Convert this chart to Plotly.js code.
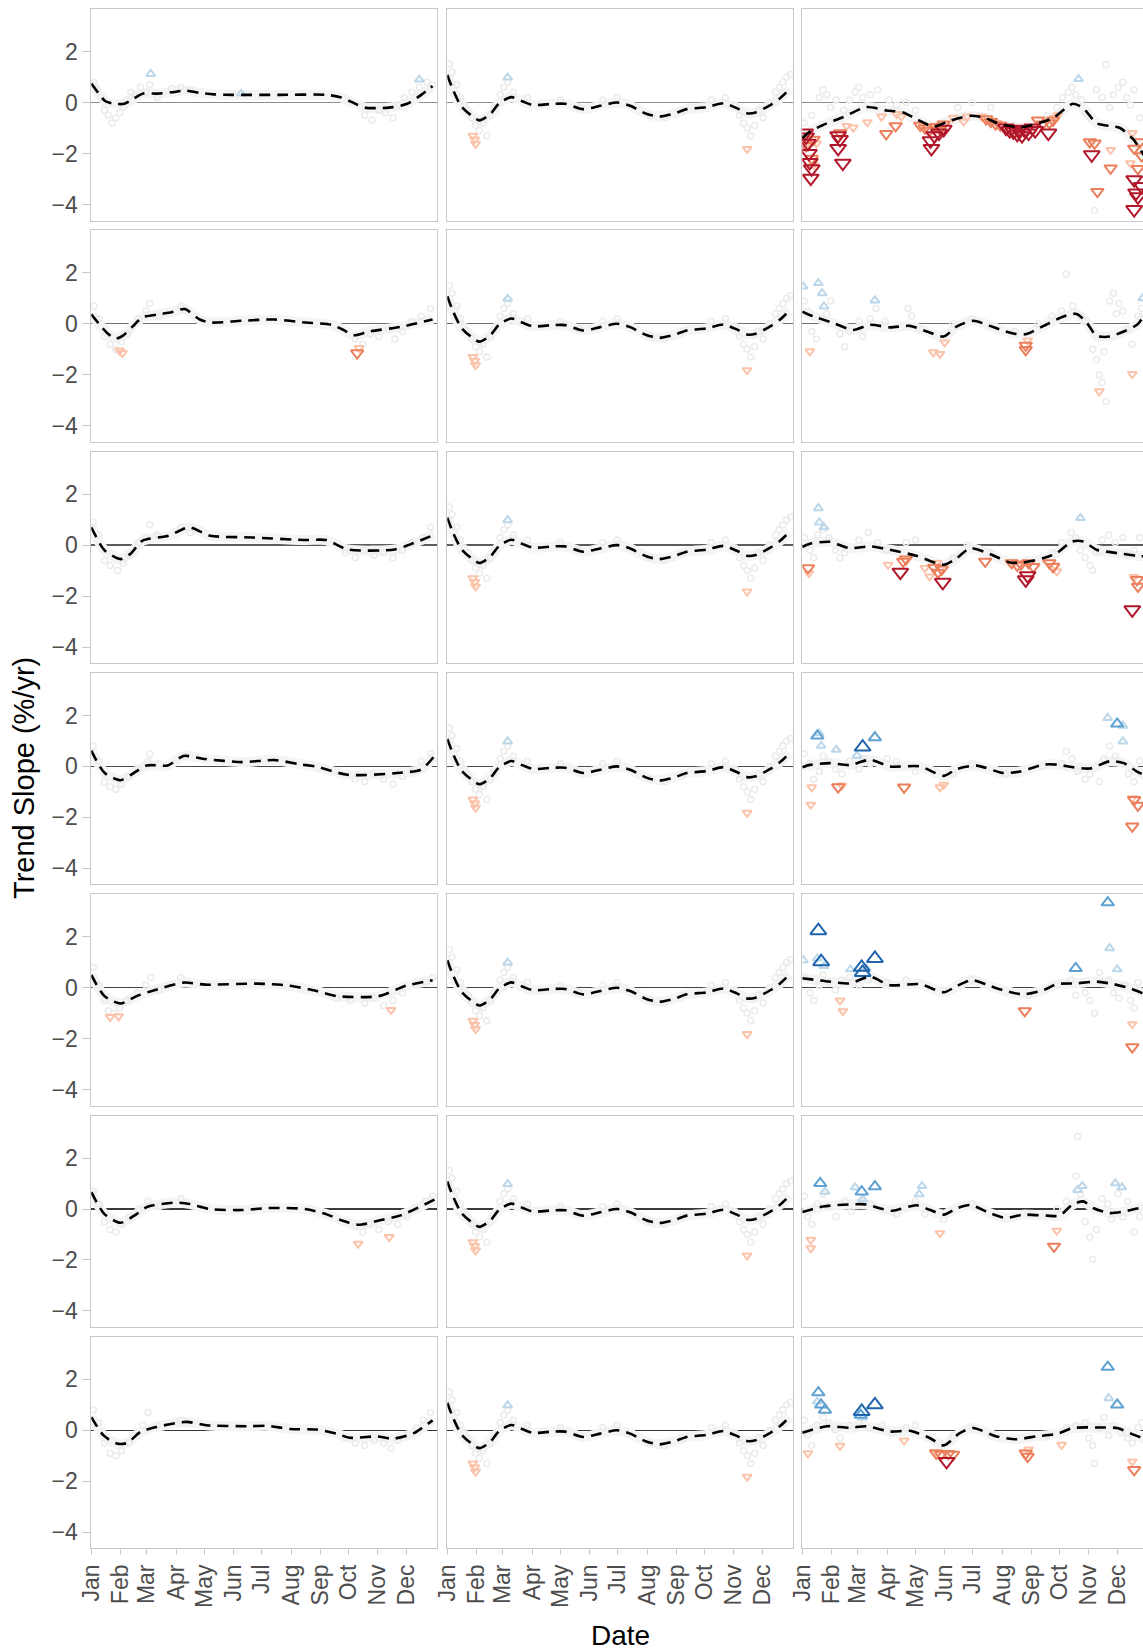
<!DOCTYPE html>
<html><head><meta charset="utf-8">
<script src="https://cdn.plot.ly/plotly-3.0.1.min.js"></script>
<style>html,body{margin:0;padding:0;overflow:hidden;background:#fff}#chart{width:1152px;height:1652px}</style>
</head><body><div id="chart"></div>
<script>
// ---------- axis labels ----------
const months = ['Jan','Feb','Mar','Apr','May','Jun','Jul','Aug','Sep','Oct','Nov','Dec'];
const monthDays = [0,31,59,90,120,151,181,212,243,273,304,334];
const yTickVals = [-4,-2,0,2];
const yTickText = ['\u22124','\u22122','0','2'];
const xTitle = 'Date';
const yTitle = 'Trend Slope (%/yr)';

// ---------- column 1 ----------
const trend_c1r1 = [[0,0.75],[8,0.35],[15,0.05],[25,-0.05],[35,-0.05],[45,0.15],[55,0.35],[70,0.35],[85,0.4],[100,0.47],[115,0.38],[130,0.32],[150,0.3],[200,0.3],[250,0.3],[265,0.2],[280,-0.05],[290,-0.2],[305,-0.22],[320,-0.18],[335,-0.05],[350,0.3],[362,0.65]];
const grey_c1r1 = [[3,0.8],[6,0.5],[10,0.2],[14,-0.3],[18,-0.5],[22,-0.8],[26,-0.6],[30,-0.4],[34,-0.2],[38,0.1],[42,0.4],[46,0.3],[52,0.6],[58,0.4],[62,0.7],[70,0.2],[85,0.55],[95,0.6],[105,0.5],[290,-0.5],[298,-0.7],[305,-0.3],[312,-0.4],[320,-0.6],[326,-0.1],[332,0.2],[340,0.4],[348,0.6],[356,0.8],[362,0.7]];
const up_c1r1 = [[63,1.12,1],[159,0.35,1],[348,0.9,1]];
const down_c1r1 = [];

const trend_c1r2 = [[0,0.37],[8,0.0],[18,-0.4],[26,-0.58],[34,-0.45],[44,-0.1],[54,0.25],[71,0.37],[85,0.45],[99,0.58],[115,0.17],[127,0.05],[160,0.12],[194,0.17],[227,0.05],[255,-0.04],[268,-0.25],[278,-0.45],[295,-0.3],[328,-0.12],[362,0.17]];
const grey_c1r2 = [[3,0.7],[8,0.2],[14,-0.5],[20,-0.8],[26,-1.0],[32,-0.7],[38,-0.4],[50,0.2],[58,0.5],[62,0.8],[72,0.3],[95,0.7],[100,0.5],[280,-0.6],[288,-0.8],[296,-0.4],[305,-0.5],[315,-0.2],[322,-0.6],[330,-0.3],[340,0.1],[350,0.3],[360,0.6]];
const up_c1r2 = [];
const down_c1r2 = [[30,-1.05,1],[33,-1.15,1],[282,-1.15,2],[284,-0.95,1]];

const trend_c1r3 = [[0,0.7],[14,-0.2],[31,-0.55],[42,-0.33],[54,0.17],[82,0.37],[104,0.7],[126,0.37],[171,0.3],[226,0.2],[249,0.2],[272,-0.17],[322,-0.17],[339,0.04],[364,0.41]];
const grey_c1r3 = [[2,0.9],[8,0.4],[14,-0.6],[20,-0.8],[28,-1.0],[34,-0.7],[40,-0.4],[50,0.1],[58,0.3],[62,0.8],[70,0.4],[95,0.7],[105,0.5],[270,-0.3],[280,-0.5],[290,-0.2],[300,-0.4],[310,-0.3],[320,-0.5],[330,-0.2],[340,0.1],[352,0.3],[360,0.7]];
const up_c1r3 = [];
const down_c1r3 = [];

const trend_c1r4 = [[0,0.62],[14,-0.25],[31,-0.54],[42,-0.33],[59,0.04],[81,0.04],[98,0.41],[121,0.29],[160,0.17],[194,0.25],[222,0.08],[238,0],[272,-0.33],[328,-0.25],[350,-0.12],[364,0.41]];
const grey_c1r4 = [[2,0.8],[8,0.2],[14,-0.6],[20,-0.8],[26,-0.9],[32,-0.7],[40,-0.4],[50,-0.1],[60,0.2],[62,0.5],[72,0.1],[100,0.4],[280,-0.5],[290,-0.6],[300,-0.3],[310,-0.5],[320,-0.7],[330,-0.4],[340,-0.2],[350,0.2],[360,0.5]];
const up_c1r4 = [];
const down_c1r4 = [];

const trend_c1r5 = [[0,0.5],[14,-0.33],[31,-0.62],[48,-0.33],[65,-0.12],[98,0.2],[121,0.12],[176,0.16],[210,0.08],[238,-0.12],[260,-0.33],[305,-0.33],[334,0.08],[362,0.29]];
const grey_c1r5 = [[2,0.8],[8,0.1],[14,-0.5],[18,-0.9],[24,-1.0],[30,-0.8],[38,-0.5],[48,-0.2],[58,0.1],[63,0.4],[72,-0.1],[95,0.4],[260,-0.4],[275,-0.5],[290,-0.6],[300,-0.4],[310,-0.7],[320,-0.5],[330,-0.2],[345,0.1],[355,0.2],[362,0.4]];
const up_c1r5 = [];
const down_c1r5 = [[20,-1.15,1],[29,-1.12,1],[318,-0.87,1]];

const trend_c1r6 = [[0,0.66],[14,-0.2],[31,-0.54],[48,-0.2],[59,0.08],[87,0.25],[104,0.2],[126,0],[160,-0.04],[188,0.04],[227,0],[249,-0.2],[266,-0.45],[283,-0.62],[305,-0.45],[328,-0.25],[364,0.37]];
const grey_c1r6 = [[2,0.7],[8,0.2],[14,-0.5],[20,-0.8],[26,-0.9],[32,-0.6],[40,-0.3],[50,0.0],[60,0.3],[72,0.1],[95,0.4],[280,-0.7],[288,-0.9],[295,-0.6],[305,-0.8],[315,-0.5],[325,-0.6],[335,-0.3],[345,0.0],[355,0.3],[362,0.5]];
const up_c1r6 = [];
const down_c1r6 = [[283,-1.36,1],[316,-1.1,1]];

const trend_c1r7 = [[0,0.52],[13,-0.2],[27,-0.52],[38,-0.5],[52,-0.07],[69,0.13],[101,0.33],[122,0.2],[168,0.16],[186,0.18],[211,0.05],[239,0.03],[260,-0.13],[274,-0.29],[303,-0.24],[320,-0.33],[341,-0.13],[350,0.07],[362,0.39]];
const grey_c1r7 = [[2,0.8],[8,0.3],[14,-0.5],[20,-0.9],[26,-1.0],[32,-0.8],[40,-0.5],[48,-0.2],[55,0.2],[60,0.7],[70,0.2],[95,0.4],[100,0.3],[270,-0.3],[280,-0.5],[290,-0.6],[300,-0.4],[310,-0.5],[318,-0.7],[325,-0.4],[335,-0.2],[345,0.1],[352,0.4],[360,0.7]];
const up_c1r7 = [];
const down_c1r7 = [];

// ---------- column 2 (same in every row) ----------
const trend_c2 = [[0,1.08],[6,0.5],[15,-0.16],[27,-0.55],[34,-0.7],[45,-0.48],[55,-0.03],[68,0.21],[80,0.04],[91,-0.1],[112,-0.05],[125,-0.05],[144,-0.26],[162,-0.13],[180,0],[194,-0.13],[211,-0.44],[225,-0.55],[240,-0.44],[254,-0.26],[275,-0.18],[293,-0.03],[307,-0.22],[318,-0.42],[327,-0.39],[343,-0.09],[353,0.17],[363,0.52]];
const grey_c2 = [[2,1.5],[5,1.2],[10,0.7],[14,0.2],[18,-0.1],[22,-0.3],[26,-0.6],[30,-0.9],[34,-1.1],[38,-0.8],[42,-1.3],[46,-0.5],[50,-0.2],[56,0.3],[60,0.6],[64,0.8],[70,0.4],[85,0.2],[120,0.1],[140,-0.2],[165,0.1],[180,0.2],[215,-0.5],[230,-0.6],[250,-0.3],[280,0.1],[295,0.2],[305,-0.1],[310,-0.5],[314,-0.8],[318,-1.0],[322,-1.3],[326,-0.9],[330,-0.3],[335,-0.6],[342,0.0],[348,0.4],[352,0.6],[356,0.8],[360,1.0],[364,1.1]];
const up_c2 = [[64,0.98,1]];
const down_c2 = [[27,-1.3,1],[29,-1.45,1],[30,-1.62,1],[318,-1.82,1]];

// ---------- column 3 ----------
const trend_c3r1 = [[0,-1.4],[8,-1.14],[22,-0.88],[43,-0.58],[68,-0.18],[89,-0.31],[107,-0.39],[121,-0.65],[139,-0.94],[157,-0.71],[178,-0.52],[192,-0.58],[209,-0.84],[231,-0.97],[248,-0.84],[266,-0.61],[287,-0.05],[298,-0.22],[312,-0.81],[326,-0.92],[337,-1.0],[351,-1.44],[361,-1.99],[366,-2.3]];
const grey_c3r1 = [[2,-0.8],[10,-0.5],[18,0.2],[22,0.5],[26,0.3],[30,-0.2],[36,0.1],[44,-0.3],[50,0.1],[56,0.4],[60,0.6],[64,0.2],[72,0.3],[80,0.5],[92,0.1],[100,-0.1],[110,0.0],[120,-0.3],[165,-0.2],[180,0.0],[200,-0.2],[260,-0.5],[270,-0.2],[276,0.2],[282,0.4],[286,0.6],[290,0.3],[296,0.1],[300,-0.4],[305,-0.6],[310,-4.24],[312,0.5],[318,0.2],[322,1.48],[326,-0.2],[330,0.3],[335,0.6],[340,0.8],[344,0.2],[348,-0.1],[352,0.5],[358,-0.6]];
const up_c3r1 = [[293,0.92,1]];
const down_c3r1 = [[5,-1.55,1],[15,-1.6,1],[12,-2.45,1],[47,-0.92,1],[54,-0.98,1],[69,-0.77,1],[84,-0.55,1],[100,-0.45,1],[105,-0.55,1],[160,-0.6,1],[171,-0.75,1],[175,-0.55,1],[190,-0.55,1],[268,-0.6,1],[271,-0.5,1],[327,-1.86,1],[348,-2.38,1],[350,-1.2,1],
  [4,-1.7,2],[10,-2.2,2],[12,-1.45,2],[40,-1.2,2],[89,-1.23,2],[99,-0.92,2],[125,-0.9,2],[130,-1.0,2],[135,-1.1,2],[142,-0.95,2],[146,-1.05,2],[150,-0.85,2],[195,-0.65,2],[200,-0.75,2],[205,-0.85,2],[210,-0.9,2],[250,-0.7,2],[255,-0.85,2],[262,-0.8,2],[266,-0.7,2],[305,-1.55,2],[310,-1.6,2],[327,-2.58,2],[313,-3.5,2],[352,-1.8,2],[356,-2.6,2],[360,-2.1,2],[358,-1.55,2],
  [3,-1.2,3],[4,-1.35,3],[6,-1.6,3],[7,-2.0,3],[8,-2.35,3],[9,-2.97,3],[10,-2.6,3],[38,-1.3,3],[40,-1.45,3],[38,-1.8,3],[43,-2.38,3],[136,-1.5,3],[137,-1.8,3],[140,-1.3,3],[145,-1.2,3],[150,-1.05,3],[216,-1.0,3],[220,-1.1,3],[224,-1.15,3],[228,-1.25,3],[230,-1.05,3],[233,-1.3,3],[236,-1.1,3],[240,-1.2,3],[244,-1.0,3],[247,-1.1,3],[261,-1.2,3],[307,-2.05,3],[352,-3.03,3],[354,-3.55,3],[352,-4.2,3],[356,-3.7,3],[360,-3.3,3]];

const trend_c3r2 = [[0,0.48],[12,0.29],[33,0.03],[54,-0.24],[72,-0.04],[93,-0.14],[114,-0.08],[132,-0.3],[150,-0.5],[164,-0.1],[181,0.12],[199,-0.08],[213,-0.27],[227,-0.4],[238,-0.4],[256,-0.08],[277,0.29],[291,0.39],[302,0.03],[312,-0.47],[326,-0.5],[341,-0.3],[355,-0.04],[361,0.22],[366,0.35]];
const grey_c3r2 = [[2,0.9],[6,0.5],[10,-0.3],[15,-0.6],[20,0.2],[26,0.4],[30,0.9],[40,-0.4],[45,-0.9],[50,-0.3],[60,0.1],[64,-0.5],[72,0.2],[78,0.6],[88,0.1],[112,0.6],[116,0.3],[125,-0.2],[160,0.0],[180,0.2],[200,-0.1],[225,-0.3],[250,0.0],[265,0.3],[275,0.5],[280,1.95],[287,0.7],[295,0.3],[300,0.1],[308,-1.0],[312,-1.4],[315,-2.0],[318,-2.3],[320,-1.1],[322,-3.05],[326,0.9],[330,1.2],[333,0.4],[336,0.8],[340,0.5],[345,-0.2],[350,-0.8],[356,0.3],[360,0.6]];
const up_c3r2 = [[1,1.46,1],[17,1.6,1],[21,1.2,1],[23,0.68,1],[77,0.92,1],[361,1.0,1]];
const down_c3r2 = [[8,-1.08,1],[139,-1.12,1],[146,-1.18,1],[151,-0.73,1],[239,-0.65,1],[315,-2.65,1],[350,-1.97,1],[237,-0.85,2],[237,-1.02,2]];

const trend_c3r3 = [[0,-0.08],[8,0.05],[29,0.13],[50,-0.12],[72,-0.05],[93,-0.18],[121,-0.42],[150,-0.77],[164,-0.51],[178,-0.12],[199,-0.35],[220,-0.68],[234,-0.68],[256,-0.51],[270,-0.31],[286,0.14],[298,0.14],[312,-0.18],[334,-0.31],[355,-0.42],[366,-0.45]];
const grey_c3r3 = [[2,0.3],[8,-0.2],[12,-0.5],[16,0.4],[22,0.6],[28,0.3],[35,-0.2],[40,-0.5],[45,-0.3],[60,0.2],[70,0.5],[80,0.1],[90,-0.2],[110,0.1],[120,0.2],[160,-0.5],[175,0.0],[200,-0.3],[265,-0.3],[275,0.1],[285,0.5],[290,0.3],[295,-0.2],[300,-0.5],[305,-0.8],[308,-1.0],[312,-0.3],[318,0.2],[325,0.4],[332,0.1],[340,0.3],[345,-0.4],[352,-0.2],[358,0.3]];
const up_c3r3 = [[17,1.45,1],[18,0.89,1],[23,0.7,1],[295,1.06,1]];
const down_c3r3 = [[7,-1.1,1],[91,-0.77,1],[130,-0.9,1],[135,-1.23,1],[143,-0.7,1],[270,-1.03,1],[268,-0.8,1],[352,-1.25,1],
  [6,-0.9,2],[107,-0.64,2],[110,-0.55,2],[140,-0.88,2],[144,-1.07,2],[148,-0.95,2],[194,-0.64,2],[222,-0.7,2],[228,-0.8,2],[232,-0.75,2],[240,-0.7,2],[245,-0.85,2],[262,-0.7,2],[266,-0.85,2],[355,-1.36,2],[356,-1.62,2],
  [104,-1.06,3],[149,-1.46,3],[237,-1.36,3],[239,-1.2,3],[350,-2.54,3]];

const trend_c3r4 = [[0,-0.03],[8,0.06],[29,0.13],[50,0.05],[72,0.26],[93,0],[125,0],[150,-0.37],[164,-0.1],[185,0.03],[213,-0.26],[231,-0.2],[256,0.07],[270,0.07],[287,-0.03],[305,-0.08],[326,0.2],[341,0.13],[355,-0.2],[366,-0.4]];
const grey_c3r4 = [[2,0.5],[8,0.1],[12,-0.5],[18,-0.2],[22,0.4],[28,0.2],[35,-0.1],[42,-0.3],[50,0.2],[60,-0.1],[65,0.3],[72,0.1],[90,0.3],[100,0.2],[120,-0.2],[160,-0.3],[180,0.1],[215,-0.3],[255,0.0],[275,0.1],[280,0.6],[286,0.3],[292,-0.2],[300,-0.5],[305,-0.3],[315,-0.6],[320,0.3],[326,0.8],[332,0.4],[340,0.1],[346,-0.3],[352,-0.6],[358,0.2]];
const up_c3r4 = [[18,1.3,1],[20,0.81,1],[36,0.65,1],[58,0.42,1],[324,1.9,1],[340,1.6,1],[340,0.98,1],[16,1.2,2],[77,1.13,2],[334,1.67,2],[64,0.76,3]];
const down_c3r4 = [[10,-0.82,1],[9,-1.5,1],[42,-0.75,1],[146,-0.82,1],[150,-0.72,1],[350,-1.25,1],[38,-0.81,2],[108,-0.82,2],[352,-1.31,2],[356,-1.53,2],[350,-2.35,2]];

const trend_c3r5 = [[0,0.37],[29,0.24],[50,0.17],[72,0.43],[93,0.1],[125,0.14],[150,-0.18],[164,0.07],[180,0.3],[199,0.07],[216,-0.13],[234,-0.26],[256,-0.09],[270,0.14],[291,0.17],[312,0.24],[330,0.14],[348,-0.03],[361,-0.22],[366,-0.3]];
const grey_c3r5 = [[2,0.4],[8,-0.2],[12,-0.5],[18,0.1],[22,0.5],[28,0.2],[35,-0.1],[42,0.3],[50,0.4],[60,0.1],[70,0.3],[90,0.2],[110,0.3],[150,-0.1],[180,0.3],[240,-0.3],[270,0.1],[285,0.3],[290,-0.3],[300,-0.2],[305,-0.5],[310,-1.0],[315,0.6],[318,0.2],[325,0.3],[330,-0.2],[336,-0.4],[342,0.1],[348,-0.5],[352,-0.8],[356,0.2]];
const up_c3r5 = [[1,1.08,1],[16,1.15,1],[23,0.85,1],[51,0.72,1],[68,0.75,1],[326,1.55,1],[334,0.72,1],[290,0.76,2],[324,3.34,2],[17,2.24,3],[20,1.02,3],[63,0.8,3],[64,0.6,3],[77,1.15,3]];
const down_c3r5 = [[40,-0.5,1],[43,-0.92,1],[350,-1.43,1],[236,-0.91,2],[350,-2.33,2]];

const trend_c3r6 = [[0,-0.12],[22,0.1],[50,0.18],[68,0.18],[82,0.03],[96,-0.07],[121,0.15],[135,-0.03],[150,-0.22],[164,0.03],[178,0.16],[199,-0.16],[216,-0.35],[234,-0.22],[259,-0.26],[273,-0.26],[286,0.16],[298,0.3],[309,0.03],[326,-0.16],[341,-0.1],[361,0.07],[366,0.1]];
const grey_c3r6 = [[2,0.5],[6,-0.3],[10,-0.6],[16,0.2],[22,0.6],[28,0.1],[36,-0.3],[45,0.3],[52,-0.1],[62,0.3],[72,0.2],[100,-0.2],[120,0.3],[130,-0.2],[150,-0.4],[180,0.2],[240,-0.2],[270,0.0],[280,0.3],[290,1.3],[292,2.85],[295,0.6],[300,-0.5],[305,-1.1],[308,-1.97],[312,-0.8],[318,0.4],[324,0.2],[328,-0.4],[335,0.6],[340,-0.3],[345,0.3],[352,-0.9],[358,-0.3]];
const up_c3r6 = [[24,0.68,1],[56,0.85,1],[64,0.38,1],[127,0.9,1],[124,0.58,1],[292,0.75,1],[297,0.9,1],[332,1.01,1],[339,0.85,1],[19,1.01,2],[63,0.68,2],[77,0.88,2]];
const down_c3r6 = [[9,-1.21,1],[9,-1.54,1],[146,-0.95,1],[270,-0.85,1],[267,-1.47,2]];

const trend_c3r7 = [[0,-0.1],[26,0.16],[50,0.1],[68,0.16],[93,-0.05],[114,-0.02],[135,-0.3],[150,-0.59],[167,-0.11],[181,0.09],[206,-0.24],[227,-0.35],[248,-0.24],[270,-0.14],[287,0.09],[316,0.11],[334,0.09],[352,-0.18],[361,-0.31],[366,-0.4]];
const grey_c3r7 = [[2,0.4],[6,-0.2],[10,-0.6],[16,0.2],[22,0.5],[28,0.3],[35,0.0],[40,-0.3],[50,0.2],[60,0.3],[70,0.1],[85,0.2],[95,-0.1],[110,0.1],[120,0.2],[160,-0.2],[180,0.1],[200,-0.2],[260,-0.2],[280,0.1],[290,0.2],[300,0.3],[304,-0.3],[308,-0.6],[310,-1.3],[315,0.1],[320,0.5],[325,-0.2],[330,0.2],[338,-0.1],[345,-0.3],[350,-0.5],[356,0.1],[360,0.3]];
const up_c3r7 = [[16,1.13,1],[325,1.26,1],[64,0.5,1],[17,1.48,2],[20,1.0,2],[24,0.8,2],[324,2.48,2],[334,1.0,2],[62,0.6,2],[63,0.74,3],[77,1.0,3]];
const down_c3r7 = [[6,-0.9,1],[40,-0.61,1],[108,-0.4,1],[275,-0.57,1],[350,-1.22,1],[140,-0.85,1],[240,-0.75,1],[142,-0.9,2],[147,-0.95,2],[155,-0.92,2],[160,-0.95,2],[237,-0.9,2],[239,-1.03,2],[352,-1.55,2],[153,-1.22,3]];

// ---------- assemble panels (row-major) ----------
const panels = [
  [[trend_c1r1,grey_c1r1,up_c1r1,down_c1r1],[trend_c2,grey_c2,up_c2,down_c2],[trend_c3r1,grey_c3r1,up_c3r1,down_c3r1]],
  [[trend_c1r2,grey_c1r2,up_c1r2,down_c1r2],[trend_c2,grey_c2,up_c2,down_c2],[trend_c3r2,grey_c3r2,up_c3r2,down_c3r2]],
  [[trend_c1r3,grey_c1r3,up_c1r3,down_c1r3],[trend_c2,grey_c2,up_c2,down_c2],[trend_c3r3,grey_c3r3,up_c3r3,down_c3r3]],
  [[trend_c1r4,grey_c1r4,up_c1r4,down_c1r4],[trend_c2,grey_c2,up_c2,down_c2],[trend_c3r4,grey_c3r4,up_c3r4,down_c3r4]],
  [[trend_c1r5,grey_c1r5,up_c1r5,down_c1r5],[trend_c2,grey_c2,up_c2,down_c2],[trend_c3r5,grey_c3r5,up_c3r5,down_c3r5]],
  [[trend_c1r6,grey_c1r6,up_c1r6,down_c1r6],[trend_c2,grey_c2,up_c2,down_c2],[trend_c3r6,grey_c3r6,up_c3r6,down_c3r6]],
  [[trend_c1r7,grey_c1r7,up_c1r7,down_c1r7],[trend_c2,grey_c2,up_c2,down_c2],[trend_c3r7,grey_c3r7,up_c3r7,down_c3r7]]
];

// ---------- styling / layout geometry ----------
const W = 1152, H = 1652;
const FONT = 'Liberation Sans, Arial, Helvetica, sans-serif';
const colLeft = [91.3, 447.3, 802.3], panelW = 346;
const rowTop0 = 9, rowStep = 221.3, panelH = 211.5;
const upColors = {1:'#bcd7ea', 2:'#5fa2d1', 3:'#2166ac'};
const downColors = {1:'#fcc3ab', 2:'#ec7f5b', 3:'#b2182b'};
const levelSize = {1:8, 2:11, 3:14};
const zeroColors = ['#8c8c8c','#707070','#5c5c5c','#4c4c4c','#424242','#3a3a3a','#333333'];
const borderColor = '#c8c8c8';

const traces = [];
const layout = {
  width: W, height: H, margin: {l:0, r:0, t:0, b:0},
  paper_bgcolor: '#ffffff', plot_bgcolor: '#ffffff', showlegend: false,
  font: {family: FONT, color: '#4d4d4d'},
  annotations: [
    {text: yTitle, xref:'paper', yref:'paper', x: 24/W, y: 1-778/H, textangle:-90,
     showarrow:false, xanchor:'center', yanchor:'middle', font:{size:29, color:'#000000', family:FONT}},
    {text: xTitle, xref:'paper', yref:'paper', x: 620/W, y: 1-1635/H,
     showarrow:false, xanchor:'center', yanchor:'middle', font:{size:28, color:'#000000', family:FONT}}
  ]
};

for (let r = 0; r < 7; r++) {
  for (let c = 0; c < 3; c++) {
    const idx = r*3 + c + 1;
    const sfx = idx === 1 ? '' : String(idx);
    const xa = 'x' + sfx, ya = 'y' + sfx;
    const top = rowTop0 + r*rowStep;
    layout['xaxis' + sfx] = {
      domain: [colLeft[c]/W, (colLeft[c]+panelW)/W], anchor: ya,
      range: [0, 367], showgrid: false, zeroline: false,
      showline: true, mirror: true, linecolor: borderColor, linewidth: 1,
      tickvals: monthDays, ticktext: months,
      showticklabels: r === 6, ticks: r === 6 ? 'outside' : '',
      ticklen: 6, tickcolor: borderColor, tickwidth: 1, tickangle: -90,
      tickfont: {size: 23, color: '#4d4d4d', family: FONT}, automargin: false
    };
    layout['yaxis' + sfx] = {
      domain: [1 - (top+panelH)/H, 1 - top/H], anchor: xa,
      range: [-4.63, 3.67], showgrid: false,
      zeroline: true, zerolinecolor: zeroColors[r], zerolinewidth: r === 0 ? 1.8 : 1.3,
      showline: true, mirror: true, linecolor: borderColor, linewidth: 1,
      tickvals: yTickVals, ticktext: yTickText,
      showticklabels: c === 0, ticks: c === 0 ? 'outside' : '',
      ticklen: 8, tickcolor: borderColor, tickwidth: 1,
      tickfont: {size: 23, color: '#4d4d4d', family: FONT}, automargin: false
    };

    const [trend, grey, up, down] = panels[r][c];
    // light band of overlapping insignificant points along the trend
    traces.push({type:'scatter', mode:'lines', xaxis:xa, yaxis:ya, hoverinfo:'skip',
      x: trend.map(p=>p[0]), y: trend.map(p=>p[1]),
      line:{color:'#f4f4f4', width:10, shape:'spline', smoothing:0.7}});
    traces.push({type:'scatter', mode:'markers', xaxis:xa, yaxis:ya, hoverinfo:'skip',
      x: grey.map(p=>p[0]), y: grey.map(p=>p[1]),
      marker:{symbol:'circle-open', size:6, color:'#ebebeb', line:{width:1.5, color:'#ebebeb'}}});
    for (const lvl of [1,2,3]) {
      const u = up.filter(p=>p[2]===lvl), d = down.filter(p=>p[2]===lvl);
      if (u.length) traces.push({type:'scatter', mode:'markers', xaxis:xa, yaxis:ya, hoverinfo:'skip',
        x: u.map(p=>p[0]), y: u.map(p=>p[1]),
        marker:{symbol:'triangle-up-open', size:levelSize[lvl], color:upColors[lvl], line:{width:2, color:upColors[lvl]}}});
      if (d.length) traces.push({type:'scatter', mode:'markers', xaxis:xa, yaxis:ya, hoverinfo:'skip',
        x: d.map(p=>p[0]), y: d.map(p=>p[1]),
        marker:{symbol:'triangle-down-open', size:levelSize[lvl], color:downColors[lvl], line:{width:2, color:downColors[lvl]}}});
    }
    traces.push({type:'scatter', mode:'lines', xaxis:xa, yaxis:ya, hoverinfo:'skip',
      x: trend.map(p=>p[0]), y: trend.map(p=>p[1]),
      line:{color:'#000000', width:2.6, dash:'11px,7px', shape:'spline', smoothing:0.7}});
  }
}

Plotly.newPlot('chart', traces, layout, {displayModeBar:false, staticPlot:true});
</script>
</body></html>
